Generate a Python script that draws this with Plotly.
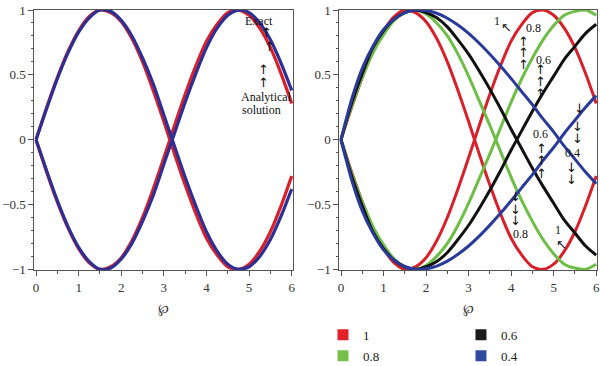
import plotly.graph_objects as go

# ---------------- data ----------------
x = [0.0, 0.25, 0.5, 0.75, 1.0, 1.25, 1.5, 1.75, 2.0, 2.25, 2.5, 2.75, 3.0,
     3.25, 3.5, 3.75, 4.0, 4.25, 4.5, 4.75, 5.0, 5.25, 5.5, 5.75, 6.0]

# left panel: exact (red) vs analytical solution (blue)
exact_up = [0.0, 0.25, 0.48, 0.68, 0.84, 0.95, 1.00, 0.98, 0.91, 0.78, 0.60, 0.38, 0.14,
            -0.11, -0.35, -0.57, -0.76, -0.89, -0.98, -1.00, -0.96, -0.86, -0.71, -0.51, -0.28]
exact_dn = [0.0, -0.25, -0.48, -0.68, -0.84, -0.95, -1.00, -0.98, -0.91, -0.78, -0.60, -0.38, -0.14,
            0.11, 0.35, 0.57, 0.76, 0.89, 0.98, 1.00, 0.96, 0.86, 0.71, 0.51, 0.28]
anal_up = [0.0, 0.24, 0.47, 0.67, 0.83, 0.94, 1.00, 0.99, 0.92, 0.80, 0.63, 0.43, 0.19,
           -0.05, -0.29, -0.51, -0.71, -0.86, -0.96, -1.00, -0.98, -0.90, -0.77, -0.59, -0.38]
anal_dn = [0.0, -0.24, -0.47, -0.67, -0.83, -0.94, -1.00, -0.99, -0.92, -0.80, -0.63, -0.43, -0.19,
           0.05, 0.29, 0.51, 0.71, 0.86, 0.96, 1.00, 0.98, 0.90, 0.77, 0.59, 0.38]

# right panel: order 1, 0.8, 0.6, 0.4
a10_up = exact_up
a10_dn = exact_dn
a08_up = [0.0, 0.26, 0.48, 0.67, 0.81, 0.92, 0.98, 1.00, 0.97, 0.90, 0.80, 0.66, 0.49,
          0.30, 0.11, -0.09, -0.29, -0.47, -0.63, -0.77, -0.88, -0.96, -0.99, -1.00, -0.96]
a08_dn = [0.0, -0.26, -0.48, -0.67, -0.81, -0.92, -0.98, -1.00, -0.97, -0.90, -0.80, -0.66, -0.49,
          -0.30, -0.11, 0.09, 0.29, 0.47, 0.63, 0.77, 0.88, 0.96, 0.99, 1.00, 0.96]
a06_up = [0.0, 0.28, 0.51, 0.71, 0.84, 0.93, 0.98, 1.00, 0.98, 0.94, 0.87, 0.77, 0.66,
          0.53, 0.39, 0.24, 0.08, -0.07, -0.22, -0.36, -0.49, -0.62, -0.72, -0.82, -0.89]
a06_dn = [0.0, -0.28, -0.51, -0.71, -0.84, -0.93, -0.98, -1.00, -0.98, -0.94, -0.87, -0.77, -0.66,
          -0.53, -0.39, -0.24, -0.08, 0.07, 0.22, 0.36, 0.49, 0.62, 0.72, 0.82, 0.89]
a04_up = [0.0, 0.31, 0.55, 0.72, 0.85, 0.93, 0.98, 1.00, 0.996, 0.975, 0.937, 0.884, 0.820,
          0.744, 0.659, 0.568, 0.471, 0.37, 0.27, 0.16, 0.06, -0.05, -0.15, -0.25, -0.34]
a04_dn = [0.0, -0.31, -0.55, -0.72, -0.85, -0.93, -0.98, -1.00, -0.996, -0.975, -0.937, -0.884, -0.820,
          -0.744, -0.659, -0.568, -0.471, -0.37, -0.27, -0.16, -0.06, 0.05, 0.15, 0.25, 0.34]

legend_names = ["1", "0.8", "0.6", "0.4"]
x_ticks = [0, 1, 2, 3, 4, 5, 6]
y_ticks = [-1, -0.5, 0, 0.5, 1]
y_ticktext = ["\u22121", "\u22120.5", "0", "0.5", "1"]

# ---------------- styles ----------------
FONT = "Liberation Serif"
RED, GREEN, BLACK, BLUE = "#d9202a", "#6cbf44", "#111111", "#2a3a9c"
LBLUE = "#2b2f96"
LEG_COLORS = ["#e3202a", "#74c04a", "#1b1b1b", "#2f4a9f"]

fig = go.Figure()

def line(xs, ys, color, xa, ya, w=3.0):
    fig.add_trace(go.Scatter(x=xs, y=ys, mode="lines", xaxis=xa, yaxis=ya,
                             line=dict(color=color, width=w, shape="spline", smoothing=0.8),
                             showlegend=False, hoverinfo="skip"))

# left panel
line(x, exact_up, RED, "x", "y", 3.2)
line(x, exact_dn, RED, "x", "y", 3.2)
line(x, anal_up, LBLUE, "x", "y", 3.2)
line(x, anal_dn, LBLUE, "x", "y", 3.2)

# right panel
for up, dn, c in [(a10_up, a10_dn, RED), (a08_up, a08_dn, GREEN),
                  (a06_up, a06_dn, BLACK), (a04_up, a04_dn, BLUE)]:
    line(x, up, c, "x2", "y2")
    line(x, dn, c, "x2", "y2")

# legend entries (square swatches), two columns
for i, (nm, c) in enumerate(zip(legend_names, LEG_COLORS)):
    fig.add_trace(go.Scatter(x=[None], y=[None], mode="markers", name=nm,
                             marker=dict(symbol="square", size=11, color=c),
                             xaxis="x2", yaxis="y2",
                             legend="legend" if i < 2 else "legend2",
                             legendgroup=nm, showlegend=True))

axis_common = dict(showline=True, linecolor="#555555", linewidth=1, mirror=True,
                   showgrid=False, zeroline=False, ticks="outside", ticklen=5,
                   automargin=False,
                   tickcolor="#555555", tickfont=dict(family=FONT, size=13, color="#333333"))

xdom_l = [0.0572, 0.4883]
xdom_r = [0.5655, 0.9958]
ydom = [0.2623, 0.974]

xa = dict(axis_common, range=[-0.04, 6.03], tickvals=x_ticks,
          minor=dict(dtick=0.5, tick0=0, ticks="outside", ticklen=3, tickcolor="#555555"),
          title=dict(text="\u2118", font=dict(family="DejaVu Serif", size=13, color="#333333"), standoff=10))
ya = dict(axis_common, range=[-1.005, 1.004], tickvals=y_ticks, ticktext=y_ticktext,
          minor=dict(dtick=0.1, tick0=0, ticks="outside", ticklen=2.5, tickcolor="#555555"))

fig.update_layout(
    template="none",
    width=600, height=366, margin=dict(l=0, r=0, t=0, b=0, autoexpand=False),
    paper_bgcolor="white", plot_bgcolor="white",
    xaxis=dict(xa, domain=xdom_l, anchor="y"),
    yaxis=dict(ya, domain=ydom, anchor="x"),
    xaxis2=dict(xa, domain=xdom_r, anchor="y2"),
    yaxis2=dict(ya, domain=ydom, anchor="x2"),
    legend=dict(x=0.5383, y=0.1262, xanchor="left", yanchor="top", orientation="v",
                font=dict(family=FONT, size=13, color="#222222"), tracegroupgap=1,
                bgcolor="rgba(0,0,0,0)", itemclick=False, itemdoubleclick=False),
    legend2=dict(x=0.7683, y=0.1262, xanchor="left", yanchor="top", orientation="v",
                 font=dict(family=FONT, size=13, color="#222222"), tracegroupgap=1,
                 bgcolor="rgba(0,0,0,0)", itemclick=False, itemdoubleclick=False),
)

# ---------------- annotations ----------------
def txt(t, xx, yy, xr="x", yr="y", size=12, fam=FONT):
    fig.add_annotation(text=t, x=xx, y=yy, xref=xr, yref=yr, showarrow=False,
                       font=dict(family=fam, size=size, color="#111111"))

def arr(t, xx, yy, xr="x", yr="y"):
    txt(t, xx, yy, xr, yr, size=13, fam="DejaVu Sans")

# left panel
txt("Exact", 5.23, 0.915)
arr("\u2191", 5.42, 0.83)
arr("\u2191", 5.48, 0.72)
arr("\u2191", 5.33, 0.54)
arr("\u2191", 5.33, 0.44)
txt("Analytical", 5.40, 0.33)
txt("solution", 5.28, 0.23)

# right panel
R = dict(xr="x2", yr="y2")
txt("1", 3.67, 0.913, **R)
arr("\u2196", 3.90, 0.867, **R)
txt("0.8", 4.52, 0.861, **R)
for yy in [0.759, 0.669, 0.579]:
    arr("\u2191", 4.28, yy, **R)
txt("0.6", 4.75, 0.612, **R)
for yy in [0.543, 0.451, 0.358]:
    arr("\u2191", 4.70, yy, **R)
arr("\u2193", 5.60, 0.243, **R)
for yy in [0.104, 0.012]:
    arr("\u2193", 5.55, yy, **R)
txt("0.4", 5.45, -0.102, **R)
for yy in [-0.217, -0.304]:
    arr("\u2193", 5.43, yy, **R)
txt("0.6", 4.68, 0.042, **R)
for yy in [-0.065, -0.158, -0.258]:
    arr("\u2191", 4.71, yy, **R)
for yy in [-0.435, -0.535, -0.620]:
    arr("\u2193", 4.10, yy, **R)
txt("0.8", 4.21, -0.728, **R)
txt("1", 5.11, -0.697, **R)
arr("\u2196", 5.18, -0.805, **R)

# the page's default 8px body margin would push the 600x366 figure out of the window
fig.write_html("out.html", config={"displayModeBar": False},
               post_script="document.body.style.margin='0';document.body.style.overflow='hidden';")
